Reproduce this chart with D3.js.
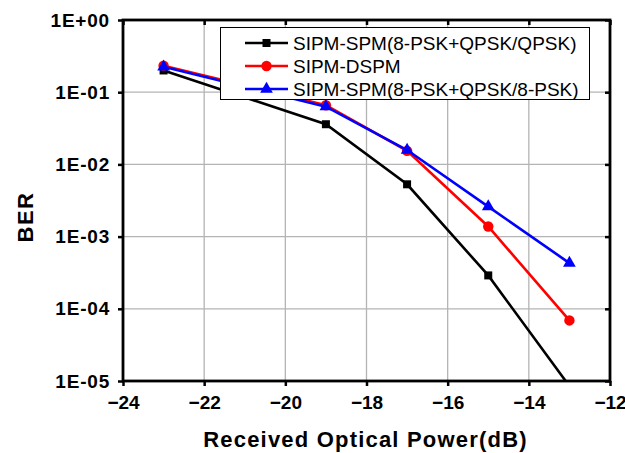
<!DOCTYPE html>
<html>
<head>
<meta charset="utf-8">
<script src="https://cdn.jsdelivr.net/npm/d3@7"></script>
<style>
html,body{margin:0;padding:0;background:#fff;}
svg{display:block;}
</style>
</head>
<body>
<svg id="chart" width="625" height="453"></svg>
<script>
const power = [-23, -19, -17, -15, -13];
const berSpmQpsk = [0.2, 0.036, 0.0053, 2.9e-4, 8.5e-6];
const berDspm = [0.233, 0.066, 0.0154, 1.38e-3, 6.9e-5];
const berSpm8psk = [0.225, 0.063, 0.0158, 2.6e-3, 4.3e-4];
const seriesNames = ["SIPM-SPM(8-PSK+QPSK/QPSK)", "SIPM-DSPM", "SIPM-SPM(8-PSK+QPSK/8-PSK)"];
const seriesColors = ["#000000", "#ff0000", "#0000ff"];
const seriesShapes = ["square", "circle", "triangle"];
const xTicks = [-24, -22, -20, -18, -16, -14, -12];
const yTicks = [1, 1e-1, 1e-2, 1e-3, 1e-4, 1e-5];
const yTickLabels = ["1E+00", "1E-01", "1E-02", "1E-03", "1E-04", "1E-05"];

const W = 625, H = 453;
const m = {left: 123, right: 15, top: 20, bottom: 72};
const iw = W - m.left - m.right, ih = H - m.top - m.bottom;
const svg = d3.select("#chart");
const g = svg.append("g").attr("transform", `translate(${m.left},${m.top})`);

const x = d3.scaleLinear().domain([-24, -12]).range([0, iw]);
const y = d3.scaleLog().domain([1e-5, 1]).range([ih, 0]);

const FONT = "'Liberation Sans', Arial, sans-serif";

// grid
g.append("g").selectAll("line").data(xTicks.slice(1, -1)).join("line")
  .attr("x1", d => x(d)).attr("x2", d => x(d)).attr("y1", 0).attr("y2", ih)
  .attr("stroke", "#b4b4b4").attr("stroke-width", 1.3);
g.append("g").selectAll("line").data(yTicks.slice(1, -1)).join("line")
  .attr("y1", d => y(d)).attr("y2", d => y(d)).attr("x1", 0).attr("x2", iw)
  .attr("stroke", "#b4b4b4").attr("stroke-width", 1.3);

// clip
svg.append("defs").append("clipPath").attr("id", "clip")
  .append("rect").attr("x", 0).attr("y", 0).attr("width", iw).attr("height", ih);

const symbolFor = s => s === "square" ? d3.symbolSquare : s === "circle" ? d3.symbolCircle : d3.symbolTriangle;
const symbolSize = s => s === "square" ? 64 : s === "circle" ? 85 : 70;

const allSeries = [berSpmQpsk, berDspm, berSpm8psk];
const plot = g.append("g").attr("clip-path", "url(#clip)");
const line = d3.line().x(d => x(d[0])).y(d => y(d[1]));
allSeries.forEach((vals, i) => {
  const pts = power.map((p, j) => [p, vals[j]]);
  plot.append("path").datum(pts).attr("d", line)
    .attr("fill", "none").attr("stroke", seriesColors[i]).attr("stroke-width", 2.6);
  plot.append("g").selectAll("path").data(pts).join("path")
    .attr("transform", d => `translate(${x(d[0])},${y(d[1])})`)
    .attr("d", d3.symbol().type(symbolFor(seriesShapes[i])).size(symbolSize(seriesShapes[i])))
    .attr("fill", seriesColors[i]);
});

// axes
const axB = g.append("g").attr("transform", `translate(0,${ih})`)
  .call(d3.axisBottom(x).tickValues(xTicks).tickSize(5).tickPadding(10).tickFormat(d3.format("d")));
const axL = g.append("g")
  .call(d3.axisLeft(y).tickValues(yTicks).tickSize(5).tickPadding(8).tickFormat((d, i) => yTickLabels[i]));
const axT = g.append("g")
  .call(d3.axisBottom(x).tickValues(xTicks).tickSize(5).tickFormat(""));
const axR = g.append("g").attr("transform", `translate(${iw},0)`)
  .call(d3.axisLeft(y).tickValues(yTicks).tickSize(5).tickFormat(""));
[axB, axL, axT, axR].forEach(a => {
  a.select(".domain").remove();
  a.selectAll(".tick line").attr("stroke", "#000").attr("stroke-width", 2.5);
  a.selectAll("text").attr("font-family", FONT).attr("font-weight", "bold")
    .attr("font-size", 19).attr("fill", "#000");
});
axL.selectAll("text").attr("letter-spacing", 0.8);
g.append("rect").attr("x", 0).attr("y", 0).attr("width", iw).attr("height", ih)
  .attr("fill", "none").attr("stroke", "#000").attr("stroke-width", 2.8);

// legend
const lg = svg.append("g");
lg.append("rect").attr("x", 220.5).attr("y", 27.5).attr("width", 369).attr("height", 72)
  .attr("fill", "#fff").attr("stroke", "#000").attr("stroke-width", 1);
seriesNames.forEach((name, i) => {
  const cy = 43 + i * 23;
  lg.append("line").attr("x1", 245).attr("x2", 288).attr("y1", cy).attr("y2", cy)
    .attr("stroke", seriesColors[i]).attr("stroke-width", 2.6);
  lg.append("path").attr("transform", `translate(266.5,${cy})`)
    .attr("d", d3.symbol().type(symbolFor(seriesShapes[i])).size(symbolSize(seriesShapes[i])))
    .attr("fill", seriesColors[i]);
  lg.append("text").attr("x", 293).attr("y", cy).attr("dy", "0.35em")
    .attr("font-family", FONT).attr("font-size", 19).attr("fill", "#000").text(name);
});

// titles
svg.append("text").attr("x", m.left + iw / 2 - 1).attr("y", 447).attr("text-anchor", "middle")
  .attr("font-family", FONT).attr("font-weight", "bold").attr("font-size", 22)
  .attr("letter-spacing", 1.2).text("Received Optical Power(dB)");
svg.append("text").attr("transform", "translate(33,217) rotate(-90)").attr("text-anchor", "middle")
  .attr("font-family", FONT).attr("font-weight", "bold").attr("font-size", 22)
  .attr("letter-spacing", 1.5).text("BER");
</script>
</body>
</html>
